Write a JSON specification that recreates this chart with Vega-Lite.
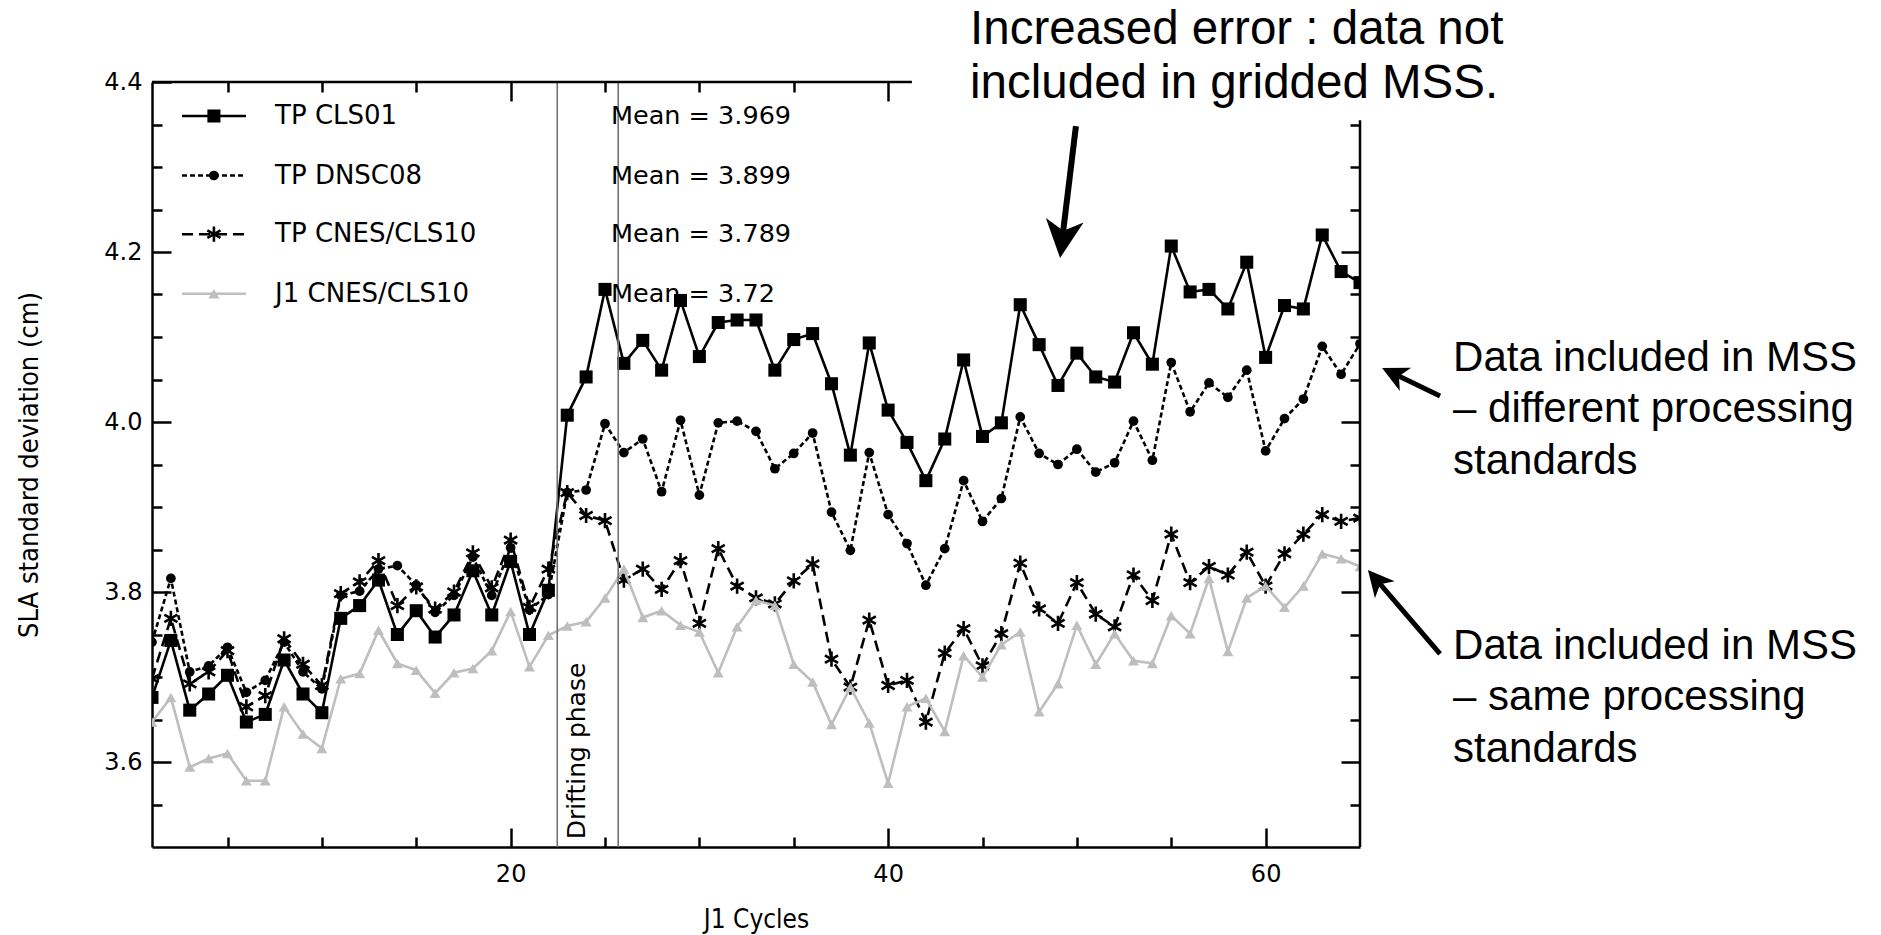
{
  "$schema": "https://vega.github.io/schema/vega-lite/v6.json",
  "width": 1208,
  "height": 765,
  "autosize": {"type": "none"},
  "padding": {"left": 152, "top": 82, "right": 521, "bottom": 88},
  "background": "white",
  "config": {"view": {"stroke": null}, "axis": {"grid": false}},
  "datasets": {
    "cls01": [
      {"cycle":1,"sla":3.676},{"cycle":2,"sla":3.743},{"cycle":3,"sla":3.661},{"cycle":4,"sla":3.680},{"cycle":5,"sla":3.702},{"cycle":6,"sla":3.647},{"cycle":7,"sla":3.656},{"cycle":8,"sla":3.720},{"cycle":9,"sla":3.680},{"cycle":10,"sla":3.658},
      {"cycle":11,"sla":3.769},{"cycle":12,"sla":3.784},{"cycle":13,"sla":3.814},{"cycle":14,"sla":3.750},{"cycle":15,"sla":3.778},{"cycle":16,"sla":3.747},{"cycle":17,"sla":3.773},{"cycle":18,"sla":3.825},{"cycle":19,"sla":3.773},{"cycle":20,"sla":3.836},
      {"cycle":21,"sla":3.750},{"cycle":22,"sla":3.802},{"cycle":23,"sla":4.008},{"cycle":24,"sla":4.053},{"cycle":25,"sla":4.156},{"cycle":26,"sla":4.069},{"cycle":27,"sla":4.096},{"cycle":28,"sla":4.061},{"cycle":29,"sla":4.143},{"cycle":30,"sla":4.077},
      {"cycle":31,"sla":4.117},{"cycle":32,"sla":4.120},{"cycle":33,"sla":4.120},{"cycle":34,"sla":4.061},{"cycle":35,"sla":4.097},{"cycle":36,"sla":4.104},{"cycle":37,"sla":4.045},{"cycle":38,"sla":3.961},{"cycle":39,"sla":4.093},{"cycle":40,"sla":4.014},
      {"cycle":41,"sla":3.976},{"cycle":42,"sla":3.931},{"cycle":43,"sla":3.980},{"cycle":44,"sla":4.073},{"cycle":45,"sla":3.983},{"cycle":46,"sla":3.999},{"cycle":47,"sla":4.138},{"cycle":48,"sla":4.091},{"cycle":49,"sla":4.043},{"cycle":50,"sla":4.081},
      {"cycle":51,"sla":4.053},{"cycle":52,"sla":4.047},{"cycle":53,"sla":4.105},{"cycle":54,"sla":4.068},{"cycle":55,"sla":4.207},{"cycle":56,"sla":4.153},{"cycle":57,"sla":4.156},{"cycle":58,"sla":4.133},{"cycle":59,"sla":4.188},{"cycle":60,"sla":4.076},
      {"cycle":61,"sla":4.137},{"cycle":62,"sla":4.133},{"cycle":63,"sla":4.220},{"cycle":64,"sla":4.177},{"cycle":65,"sla":4.164}
    ],
    "dnsc08": [
      {"cycle":1,"sla":3.741},{"cycle":2,"sla":3.816},{"cycle":3,"sla":3.706},{"cycle":4,"sla":3.713},{"cycle":5,"sla":3.735},{"cycle":6,"sla":3.682},{"cycle":7,"sla":3.696},{"cycle":8,"sla":3.741},{"cycle":9,"sla":3.706},{"cycle":10,"sla":3.686},
      {"cycle":11,"sla":3.796},{"cycle":12,"sla":3.801},{"cycle":13,"sla":3.827},{"cycle":14,"sla":3.831},{"cycle":15,"sla":3.808},{"cycle":16,"sla":3.776},{"cycle":17,"sla":3.796},{"cycle":18,"sla":3.841},{"cycle":19,"sla":3.796},{"cycle":20,"sla":3.852},
      {"cycle":21,"sla":3.779},{"cycle":22,"sla":3.797},{"cycle":23,"sla":3.917},{"cycle":24,"sla":3.920},{"cycle":25,"sla":3.998},{"cycle":26,"sla":3.964},{"cycle":27,"sla":3.980},{"cycle":28,"sla":3.918},{"cycle":29,"sla":4.002},{"cycle":30,"sla":3.914},
      {"cycle":31,"sla":3.999},{"cycle":32,"sla":4.001},{"cycle":33,"sla":3.989},{"cycle":34,"sla":3.945},{"cycle":35,"sla":3.963},{"cycle":36,"sla":3.987},{"cycle":37,"sla":3.894},{"cycle":38,"sla":3.849},{"cycle":39,"sla":3.964},{"cycle":40,"sla":3.891},
      {"cycle":41,"sla":3.857},{"cycle":42,"sla":3.808},{"cycle":43,"sla":3.851},{"cycle":44,"sla":3.931},{"cycle":45,"sla":3.883},{"cycle":46,"sla":3.910},{"cycle":47,"sla":4.006},{"cycle":48,"sla":3.963},{"cycle":49,"sla":3.950},{"cycle":50,"sla":3.968},
      {"cycle":51,"sla":3.941},{"cycle":52,"sla":3.952},{"cycle":53,"sla":4.001},{"cycle":54,"sla":3.955},{"cycle":55,"sla":4.070},{"cycle":56,"sla":4.012},{"cycle":57,"sla":4.046},{"cycle":58,"sla":4.029},{"cycle":59,"sla":4.061},{"cycle":60,"sla":3.966},
      {"cycle":61,"sla":4.004},{"cycle":62,"sla":4.027},{"cycle":63,"sla":4.089},{"cycle":64,"sla":4.056},{"cycle":65,"sla":4.092}
    ],
    "cnes10": [
      {"cycle":1,"sla":3.698},{"cycle":2,"sla":3.769},{"cycle":3,"sla":3.692},{"cycle":4,"sla":3.706},{"cycle":5,"sla":3.731},{"cycle":6,"sla":3.665},{"cycle":7,"sla":3.678},{"cycle":8,"sla":3.745},{"cycle":9,"sla":3.715},{"cycle":10,"sla":3.690},
      {"cycle":11,"sla":3.798},{"cycle":12,"sla":3.812},{"cycle":13,"sla":3.837},{"cycle":14,"sla":3.784},{"cycle":15,"sla":3.806},{"cycle":16,"sla":3.780},{"cycle":17,"sla":3.800},{"cycle":18,"sla":3.846},{"cycle":19,"sla":3.805},{"cycle":20,"sla":3.861},
      {"cycle":21,"sla":3.782},{"cycle":22,"sla":3.827},{"cycle":23,"sla":3.917},{"cycle":24,"sla":3.890},{"cycle":25,"sla":3.884},{"cycle":26,"sla":3.814},{"cycle":27,"sla":3.827},{"cycle":28,"sla":3.803},{"cycle":29,"sla":3.837},{"cycle":30,"sla":3.763},
      {"cycle":31,"sla":3.851},{"cycle":32,"sla":3.807},{"cycle":33,"sla":3.793},{"cycle":34,"sla":3.786},{"cycle":35,"sla":3.813},{"cycle":36,"sla":3.833},{"cycle":37,"sla":3.721},{"cycle":38,"sla":3.688},{"cycle":39,"sla":3.767},{"cycle":40,"sla":3.690},
      {"cycle":41,"sla":3.696},{"cycle":42,"sla":3.647},{"cycle":43,"sla":3.728},{"cycle":44,"sla":3.757},{"cycle":45,"sla":3.713},{"cycle":46,"sla":3.751},{"cycle":47,"sla":3.834},{"cycle":48,"sla":3.780},{"cycle":49,"sla":3.763},{"cycle":50,"sla":3.811},
      {"cycle":51,"sla":3.774},{"cycle":52,"sla":3.759},{"cycle":53,"sla":3.820},{"cycle":54,"sla":3.790},{"cycle":55,"sla":3.868},{"cycle":56,"sla":3.811},{"cycle":57,"sla":3.830},{"cycle":58,"sla":3.820},{"cycle":59,"sla":3.847},{"cycle":60,"sla":3.807},
      {"cycle":61,"sla":3.845},{"cycle":62,"sla":3.868},{"cycle":63,"sla":3.891},{"cycle":64,"sla":3.883},{"cycle":65,"sla":3.887}
    ],
    "j1": [
      {"cycle":1,"sla":3.647},{"cycle":2,"sla":3.676},{"cycle":3,"sla":3.594},{"cycle":4,"sla":3.604},{"cycle":5,"sla":3.610},{"cycle":6,"sla":3.578},{"cycle":7,"sla":3.578},{"cycle":8,"sla":3.665},{"cycle":9,"sla":3.633},{"cycle":10,"sla":3.616},
      {"cycle":11,"sla":3.698},{"cycle":12,"sla":3.704},{"cycle":13,"sla":3.755},{"cycle":14,"sla":3.716},{"cycle":15,"sla":3.708},{"cycle":16,"sla":3.681},{"cycle":17,"sla":3.705},{"cycle":18,"sla":3.710},{"cycle":19,"sla":3.731},{"cycle":20,"sla":3.777},
      {"cycle":21,"sla":3.712},{"cycle":22,"sla":3.749},{"cycle":23,"sla":3.760},{"cycle":24,"sla":3.765},{"cycle":25,"sla":3.793},{"cycle":26,"sla":3.827},{"cycle":27,"sla":3.770},{"cycle":28,"sla":3.778},{"cycle":29,"sla":3.761},{"cycle":30,"sla":3.753},
      {"cycle":31,"sla":3.705},{"cycle":32,"sla":3.759},{"cycle":33,"sla":3.790},{"cycle":34,"sla":3.784},{"cycle":35,"sla":3.715},{"cycle":36,"sla":3.694},{"cycle":37,"sla":3.644},{"cycle":38,"sla":3.688},{"cycle":39,"sla":3.646},{"cycle":40,"sla":3.575},
      {"cycle":41,"sla":3.665},{"cycle":42,"sla":3.675},{"cycle":43,"sla":3.636},{"cycle":44,"sla":3.725},{"cycle":45,"sla":3.700},{"cycle":46,"sla":3.738},{"cycle":47,"sla":3.753},{"cycle":48,"sla":3.659},{"cycle":49,"sla":3.692},{"cycle":50,"sla":3.761},
      {"cycle":51,"sla":3.715},{"cycle":52,"sla":3.751},{"cycle":53,"sla":3.719},{"cycle":54,"sla":3.716},{"cycle":55,"sla":3.772},{"cycle":56,"sla":3.751},{"cycle":57,"sla":3.816},{"cycle":58,"sla":3.730},{"cycle":59,"sla":3.793},{"cycle":60,"sla":3.807},
      {"cycle":61,"sla":3.782},{"cycle":62,"sla":3.807},{"cycle":63,"sla":3.845},{"cycle":64,"sla":3.839},{"cycle":65,"sla":3.830}
    ],
    "phase": [{"cycle": 22.47}, {"cycle": 25.7}],
    "one": [{}]
  },
  "layer": [
    {
      "data": {"name": "cls01"},
      "mark": {"type": "line", "color": "black", "strokeWidth": 2.6, "clip": true},
      "encoding": {
        "x": {"field": "cycle", "type": "quantitative",
          "scale": {"domain": [1, 65], "nice": false, "zero": false},
          "axis": {"orient": "bottom", "values": [5,10,15,20,25,30,35,40,45,50,55,60],
            "labelExpr": "datum.value % 20 === 0 ? datum.label : ''",
            "tickSize": {"condition": {"test": "datum.value % 20 === 0", "value": -19}, "value": -10},
            "tickWidth": 2.5, "tickColor": "black", "domainColor": "black", "domainWidth": 2.5,
            "labelFont": "DejaVu Sans", "labelFontSize": 24, "labelColor": "black", "labelPadding": 34,
            "labelFlush": false, "labelOverlap": false,
            "title": "J1 Cycles", "titleFont": "Liberation Sans Narrow, DejaVu Sans Condensed, Liberation Sans",
            "titleFontSize": 26, "titleFontWeight": "normal", "titleColor": "black", "titlePadding": 11}},
        "y": {"field": "sla", "type": "quantitative",
          "scale": {"domain": [3.5, 4.4], "nice": false, "zero": false},
          "axis": {"orient": "left", "values": [3.55,3.6,3.65,3.7,3.75,3.8,3.85,3.9,3.95,4.0,4.05,4.1,4.15,4.2,4.25,4.3,4.35,4.4],
            "labelExpr": "abs(datum.value*5 - round(datum.value*5)) < 0.01 ? format(datum.value, '.1f') : ''",
            "tickSize": {"condition": {"test": "abs(datum.value*5 - round(datum.value*5)) < 0.01", "value": -19}, "value": -10},
            "tickWidth": 2.5, "tickColor": "black", "domainColor": "black", "domainWidth": 2.5,
            "labelFont": "DejaVu Sans", "labelFontSize": 24, "labelColor": "black", "labelPadding": 29,
            "labelFlush": false, "labelOverlap": false,
            "title": "SLA standard deviation (cm)", "titleFont": "Liberation Sans Narrow, DejaVu Sans Condensed, Liberation Sans",
            "titleFontSize": 27, "titleFontWeight": "normal", "titleColor": "black", "titlePadding": 60}}
      }
    },
    {
      "data": {"name": "cls01"},
      "mark": {"type": "point", "shape": "square", "filled": true, "color": "black", "size": 170, "opacity": 1, "clip": true},
      "encoding": {
        "x": {"field": "cycle", "type": "quantitative",
          "axis": {"orient": "top", "values": [5,10,15,20,25,30,35,40], "labels": false, "domain": false,
            "tickSize": {"condition": {"test": "datum.value % 20 === 0", "value": -19}, "value": -10},
            "tickWidth": 2.5, "tickColor": "black", "title": null}},
        "y": {"field": "sla", "type": "quantitative",
          "axis": {"orient": "right", "values": [3.55,3.6,3.65,3.7,3.75,3.8,3.85,3.9,3.95,4.0,4.05,4.1,4.15,4.2,4.25,4.3,4.35], "labels": false, "domain": false,
            "tickSize": {"condition": {"test": "abs(datum.value*5 - round(datum.value*5)) < 0.01", "value": -19}, "value": -10},
            "tickWidth": 2.5, "tickColor": "black", "title": null}}
      }
    },
    {
      "data": {"name": "dnsc08"},
      "mark": {"type": "line", "color": "black", "strokeWidth": 2.6, "strokeDash": [5, 3], "clip": true},
      "encoding": {"x": {"field": "cycle", "type": "quantitative", "axis": null}, "y": {"field": "sla", "type": "quantitative", "axis": null}}
    },
    {
      "data": {"name": "dnsc08"},
      "mark": {"type": "point", "shape": "circle", "filled": true, "color": "black", "size": 95, "opacity": 1, "clip": true},
      "encoding": {"x": {"field": "cycle", "type": "quantitative", "axis": null}, "y": {"field": "sla", "type": "quantitative", "axis": null}}
    },
    {
      "data": {"name": "cnes10"},
      "mark": {"type": "line", "color": "black", "strokeWidth": 2.6, "strokeDash": [11, 6], "clip": true},
      "encoding": {"x": {"field": "cycle", "type": "quantitative", "axis": null}, "y": {"field": "sla", "type": "quantitative", "axis": null}}
    },
    {
      "data": {"name": "cnes10"},
      "mark": {"type": "point", "shape": "M0,-1L0,1M-0.866,-0.5L0.866,0.5M-0.866,0.5L0.866,-0.5", "filled": false, "color": "black", "strokeWidth": 2.6, "size": 230, "opacity": 1, "clip": true},
      "encoding": {"x": {"field": "cycle", "type": "quantitative", "axis": null}, "y": {"field": "sla", "type": "quantitative", "axis": null}}
    },
    {
      "data": {"name": "j1"},
      "mark": {"type": "line", "color": "#bebebe", "strokeWidth": 2.6, "clip": true},
      "encoding": {"x": {"field": "cycle", "type": "quantitative", "axis": null}, "y": {"field": "sla", "type": "quantitative", "axis": null}}
    },
    {
      "data": {"name": "j1"},
      "mark": {"type": "point", "shape": "triangle-up", "filled": true, "color": "#bebebe", "size": 120, "opacity": 1, "clip": true},
      "encoding": {"x": {"field": "cycle", "type": "quantitative", "axis": null}, "y": {"field": "sla", "type": "quantitative", "axis": null}}
    },
    {
      "data": {"name": "phase"},
      "mark": {"type": "rule", "color": "#707070", "strokeWidth": 1.6},
      "encoding": {"x": {"field": "cycle", "type": "quantitative", "axis": null}}
    },
    {
      "data": {"name": "one"},
      "mark": {"type": "text", "text": "Drifting phase", "angle": 270, "align": "left", "baseline": "middle", "font": "DejaVu Sans", "fontSize": 25, "color": "black"},
      "encoding": {"x": {"datum": 23.52, "type": "quantitative", "axis": null}, "y": {"datum": 3.509, "type": "quantitative", "axis": null}}
    },
    {
      "data": {"name": "one"},
      "mark": {"type": "rule", "color": "black", "strokeWidth": 2.5},
      "encoding": {"x": {"datum": 1, "type": "quantitative", "axis": null}, "x2": {"datum": 41.26}, "y": {"datum": 4.4, "type": "quantitative", "axis": null}}
    },
    {
      "data": {"name": "one"},
      "mark": {"type": "rule", "color": "black", "strokeWidth": 2.5},
      "encoding": {"x": {"datum": 65, "type": "quantitative", "axis": null}, "y": {"datum": 3.5, "type": "quantitative", "axis": null}, "y2": {"datum": 4.355}}
    },
    {
      "data": {"name": "one"},
      "mark": {"type": "rule", "color": "black", "strokeWidth": 2.5},
      "encoding": {"x": {"datum": 2.59, "type": "quantitative", "axis": null}, "x2": {"datum": 5.98}, "y": {"datum": 4.36, "type": "quantitative", "axis": null}}
    },
    {
      "data": {"name": "one"},
      "mark": {"type": "rule", "color": "black", "strokeWidth": 2.5, "strokeDash": [5, 3]},
      "encoding": {"x": {"datum": 2.59, "type": "quantitative", "axis": null}, "x2": {"datum": 5.98}, "y": {"datum": 4.29, "type": "quantitative", "axis": null}}
    },
    {
      "data": {"name": "one"},
      "mark": {"type": "rule", "color": "black", "strokeWidth": 2.5, "strokeDash": [11, 6]},
      "encoding": {"x": {"datum": 2.59, "type": "quantitative", "axis": null}, "x2": {"datum": 5.98}, "y": {"datum": 4.221, "type": "quantitative", "axis": null}}
    },
    {
      "data": {"name": "one"},
      "mark": {"type": "rule", "color": "#bebebe", "strokeWidth": 2.5},
      "encoding": {"x": {"datum": 2.59, "type": "quantitative", "axis": null}, "x2": {"datum": 5.98}, "y": {"datum": 4.151, "type": "quantitative", "axis": null}}
    },
    {
      "data": {"name": "one"},
      "mark": {"type": "point", "shape": "square", "filled": true, "color": "black", "size": 170, "opacity": 1},
      "encoding": {"x": {"datum": 4.28, "type": "quantitative", "axis": null}, "y": {"datum": 4.36, "type": "quantitative", "axis": null}}
    },
    {
      "data": {"name": "one"},
      "mark": {"type": "point", "shape": "circle", "filled": true, "color": "black", "size": 95, "opacity": 1},
      "encoding": {"x": {"datum": 4.28, "type": "quantitative", "axis": null}, "y": {"datum": 4.29, "type": "quantitative", "axis": null}}
    },
    {
      "data": {"name": "one"},
      "mark": {"type": "point", "shape": "M0,-1L0,1M-0.866,-0.5L0.866,0.5M-0.866,0.5L0.866,-0.5", "filled": false, "color": "black", "strokeWidth": 2.6, "size": 230, "opacity": 1},
      "encoding": {"x": {"datum": 4.28, "type": "quantitative", "axis": null}, "y": {"datum": 4.221, "type": "quantitative", "axis": null}}
    },
    {
      "data": {"name": "one"},
      "mark": {"type": "point", "shape": "triangle-up", "filled": true, "color": "#bebebe", "size": 120, "opacity": 1},
      "encoding": {"x": {"datum": 4.28, "type": "quantitative", "axis": null}, "y": {"datum": 4.151, "type": "quantitative", "axis": null}}
    },
    {
      "data": {"name": "one"},
      "mark": {"type": "text", "text": "TP CLS01", "align": "left", "baseline": "middle", "font": "DejaVu Sans", "fontSize": 26, "color": "black"},
      "encoding": {"x": {"datum": 7.52, "type": "quantitative", "axis": null}, "y": {"datum": 4.36, "type": "quantitative", "axis": null}}
    },
    {
      "data": {"name": "one"},
      "mark": {"type": "text", "text": "TP DNSC08", "align": "left", "baseline": "middle", "font": "DejaVu Sans", "fontSize": 26, "color": "black"},
      "encoding": {"x": {"datum": 7.52, "type": "quantitative", "axis": null}, "y": {"datum": 4.29, "type": "quantitative", "axis": null}}
    },
    {
      "data": {"name": "one"},
      "mark": {"type": "text", "text": "TP CNES/CLS10", "align": "left", "baseline": "middle", "font": "DejaVu Sans", "fontSize": 26, "color": "black"},
      "encoding": {"x": {"datum": 7.52, "type": "quantitative", "axis": null}, "y": {"datum": 4.221, "type": "quantitative", "axis": null}}
    },
    {
      "data": {"name": "one"},
      "mark": {"type": "text", "text": "J1 CNES/CLS10", "align": "left", "baseline": "middle", "font": "DejaVu Sans", "fontSize": 26, "color": "black"},
      "encoding": {"x": {"datum": 7.52, "type": "quantitative", "axis": null}, "y": {"datum": 4.151, "type": "quantitative", "axis": null}}
    },
    {
      "data": {"name": "one"},
      "mark": {"type": "text", "text": "Mean = 3.969", "align": "left", "baseline": "middle", "font": "DejaVu Sans", "fontSize": 25.5, "color": "black"},
      "encoding": {"x": {"datum": 25.32, "type": "quantitative", "axis": null}, "y": {"datum": 4.36, "type": "quantitative", "axis": null}}
    },
    {
      "data": {"name": "one"},
      "mark": {"type": "text", "text": "Mean = 3.899", "align": "left", "baseline": "middle", "font": "DejaVu Sans", "fontSize": 25.5, "color": "black"},
      "encoding": {"x": {"datum": 25.32, "type": "quantitative", "axis": null}, "y": {"datum": 4.29, "type": "quantitative", "axis": null}}
    },
    {
      "data": {"name": "one"},
      "mark": {"type": "text", "text": "Mean = 3.789", "align": "left", "baseline": "middle", "font": "DejaVu Sans", "fontSize": 25.5, "color": "black"},
      "encoding": {"x": {"datum": 25.32, "type": "quantitative", "axis": null}, "y": {"datum": 4.221, "type": "quantitative", "axis": null}}
    },
    {
      "data": {"name": "one"},
      "mark": {"type": "text", "text": "Mean = 3.72", "align": "left", "baseline": "middle", "font": "DejaVu Sans", "fontSize": 25.5, "color": "black"},
      "encoding": {"x": {"datum": 25.32, "type": "quantitative", "axis": null}, "y": {"datum": 4.151, "type": "quantitative", "axis": null}}
    },
    {
      "data": {"name": "one"},
      "mark": {"type": "text", "text": ["Increased error : data not", "included in gridded MSS."], "align": "left", "baseline": "middle", "lineHeight": 54, "font": "Liberation Sans", "fontSize": 47.5, "color": "black", "clip": false},
      "encoding": {"x": {"datum": 44.34, "type": "quantitative", "axis": null}, "y": {"datum": 4.4612, "type": "quantitative", "axis": null}}
    },
    {
      "data": {"name": "one"},
      "mark": {"type": "text", "text": ["Data included in MSS", "– different processing", "standards"], "align": "left", "baseline": "middle", "lineHeight": 51.5, "font": "Liberation Sans", "fontSize": 42, "color": "black", "clip": false},
      "encoding": {"x": {"datum": 69.93, "type": "quantitative", "axis": null}, "y": {"datum": 4.0753, "type": "quantitative", "axis": null}}
    },
    {
      "data": {"name": "one"},
      "mark": {"type": "text", "text": ["Data included in MSS", "– same processing", "standards"], "align": "left", "baseline": "middle", "lineHeight": 51.5, "font": "Liberation Sans", "fontSize": 42, "color": "black", "clip": false},
      "encoding": {"x": {"datum": 69.93, "type": "quantitative", "axis": null}, "y": {"datum": 3.7365, "type": "quantitative", "axis": null}}
    },
    {
      "data": {"name": "one"},
      "mark": {"type": "rule", "color": "black", "strokeWidth": 6, "clip": false},
      "encoding": {"x": {"datum": 49.95, "type": "quantitative", "axis": null}, "y": {"datum": 4.348, "type": "quantitative", "axis": null}, "x2": {"datum": 49.23}, "y2": {"datum": 4.2162}}
    },
    {
      "data": {"name": "one"},
      "mark": {"type": "point", "shape": "M0,0L-0.5,1L0,0.72L0.5,1Z", "filled": true, "color": "black", "size": 5776, "angle": 187, "opacity": 1, "clip": false},
      "encoding": {"x": {"datum": 49.11, "type": "quantitative", "axis": null}, "y": {"datum": 4.193, "type": "quantitative", "axis": null}}
    },
    {
      "data": {"name": "one"},
      "mark": {"type": "rule", "color": "black", "strokeWidth": 5, "clip": false},
      "encoding": {"x": {"datum": 69.24, "type": "quantitative", "axis": null}, "y": {"datum": 4.0306, "type": "quantitative", "axis": null}, "x2": {"datum": 66.83}, "y2": {"datum": 4.0564}}
    },
    {
      "data": {"name": "one"},
      "mark": {"type": "point", "shape": "M0,0L-0.5,1L0,0.72L0.5,1Z", "filled": true, "color": "black", "size": 2704, "angle": 295.8, "opacity": 1, "clip": false},
      "encoding": {"x": {"datum": 66.17, "type": "quantitative", "axis": null}, "y": {"datum": 4.0635, "type": "quantitative", "axis": null}}
    },
    {
      "data": {"name": "one"},
      "mark": {"type": "rule", "color": "black", "strokeWidth": 5, "clip": false},
      "encoding": {"x": {"datum": 69.24, "type": "quantitative", "axis": null}, "y": {"datum": 3.7271, "type": "quantitative", "axis": null}, "x2": {"datum": 65.91}, "y2": {"datum": 3.8134}}
    },
    {
      "data": {"name": "one"},
      "mark": {"type": "point", "shape": "M0,0L-0.5,1L0,0.72L0.5,1Z", "filled": true, "color": "black", "size": 2704, "angle": 319.4, "opacity": 1, "clip": false},
      "encoding": {"x": {"datum": 65.42, "type": "quantitative", "axis": null}, "y": {"datum": 3.8259, "type": "quantitative", "axis": null}}
    }
  ],
  "resolve": {"axis": {"x": "independent", "y": "independent"}}
}
